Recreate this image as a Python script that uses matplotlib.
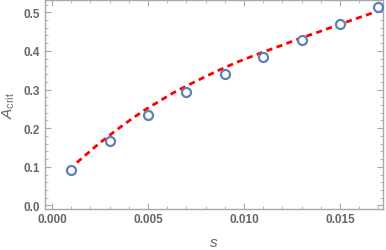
import matplotlib
matplotlib.use("Agg")
from matplotlib import pyplot as plt
from matplotlib.ticker import MultipleLocator
import numpy as np

# measured points
s_pts = [0.001, 0.003, 0.005, 0.007, 0.009, 0.011, 0.013, 0.015, 0.017]
a_pts = [0.092, 0.167, 0.235, 0.293, 0.341, 0.385, 0.428, 0.470, 0.513]

# fit curve
s_fit = [0.0013, 0.0024, 0.0033, 0.0041, 0.0048, 0.0056, 0.0063, 0.0072, 0.0081, 0.0090,
         0.0098, 0.0110, 0.0120, 0.0129, 0.0140, 0.0150, 0.0161, 0.0172]
a_fit = [0.111, 0.158, 0.193, 0.222, 0.246, 0.270, 0.291, 0.314, 0.336, 0.357,
         0.374, 0.397, 0.415, 0.432, 0.451, 0.469, 0.488, 0.507]

plt.rcParams['font.family'] = ['Liberation Sans', 'DejaVu Sans']
plt.rcParams['mathtext.fontset'] = 'custom'
plt.rcParams['mathtext.it'] = 'Liberation Sans:italic'
plt.rcParams['mathtext.rm'] = 'Liberation Sans'
gray = '#666666'
frame = '#a8a8a8'

fig = plt.figure(figsize=(3.86, 2.51), dpi=100)
ax = fig.add_axes([0.1166, 0.1653, 0.8754, 0.831])

ax.plot(s_fit, a_fit, color='#ff0000', lw=2, ls=(0, (2.2, 1.6)), zorder=2)
ax.plot(s_pts, a_pts, 'o', ms=6.5, mfc='white', mec='#5e81b5', mew=1.6, zorder=3)

ax.set_xlim(-0.00036, 0.01724)
ax.set_ylim(-0.008, 0.532)
ax.xaxis.set_major_locator(MultipleLocator(0.005))
ax.xaxis.set_minor_locator(MultipleLocator(0.001))
ax.yaxis.set_major_locator(MultipleLocator(0.1))
ax.yaxis.set_minor_locator(MultipleLocator(0.02))
ax.xaxis.set_major_formatter(plt.FuncFormatter(lambda v, p: '%.3f' % v))
ax.yaxis.set_major_formatter(plt.FuncFormatter(lambda v, p: '%.1f' % v))

for sp in ax.spines.values():
    sp.set_color(frame)
    sp.set_linewidth(1.0)
ax.tick_params(which='both', direction='in', top=True, right=True, color=frame,
               labelcolor=gray, labelsize=8.5)
ax.tick_params(which='major', length=4, width=0.8)
ax.tick_params(which='minor', length=2.2, width=0.6)
for lab in ax.get_xticklabels() + ax.get_yticklabels():
    lab.set_fontweight('bold')

ax.set_xlabel('$s$', color=gray, fontsize=11, labelpad=7)
ax.set_ylabel(r'$A_{\mathrm{crit}}$', color=gray, fontsize=11, labelpad=5)

fig.savefig('out.png', dpi=100)
